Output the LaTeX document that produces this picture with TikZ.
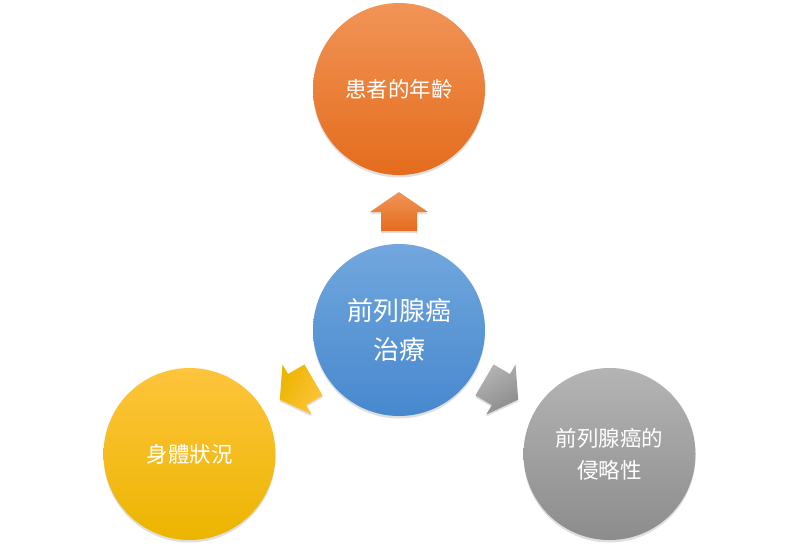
\documentclass[tikz,border=0pt]{standalone}
\usepackage{fontspec}
\newfontfamily\cjk{Noto Sans CJK TC}
\usetikzlibrary{shadows}
\definecolor{orT}{HTML}{F19457}
\definecolor{orB}{HTML}{E46C1C}
\definecolor{blT}{HTML}{71A7DD}
\definecolor{blB}{HTML}{4788CE}
\definecolor{yeT}{HTML}{FEC43C}
\definecolor{yeB}{HTML}{ECB500}
\definecolor{grT}{HTML}{B4B4B4}
\definecolor{grB}{HTML}{8C8C8C}
\tikzset{
  bubble/.style={circle, minimum size=172pt, inner sep=0pt, text=white, align=center,
    font=\cjk\fontsize{21.5}{32}\selectfont,
    drop shadow={opacity=0.25, shadow xshift=0pt, shadow yshift=-2.5pt}},
  bigtext/.style={font=\cjk\fontsize{26}{39}\selectfont},
}
\newcommand{\blockarrow}{(99,-18) -- (118,-18) -- (118,-29) -- (138,0) -- (118,29) -- (118,18) -- (99,18) -- cycle}
\begin{document}
\begin{tikzpicture}[x=1pt, y=1pt]
\useasboundingbox (0,0) rectangle (799,-547);
\node[bubble, top color=orT, bottom color=orB] (age) at (399,-89) {患者的年齡};
\node[bubble, bigtext, top color=blT, bottom color=blB] (ctr) at (399,-330) {前列腺癌\\治療};
\node[bubble, top color=yeT, bottom color=yeB] (body) at (189.5,-454) {身體狀況};
\node[bubble, top color=grT, bottom color=grB] (agg) at (609.5,-454) {前列腺癌的\\侵略性};
\begin{scope}[shift={(ctr.center)}, rotate=90]
  \shade[top color=orT, bottom color=orB, drop shadow={opacity=0.25, shadow xshift=0pt, shadow yshift=-2pt}] \blockarrow;
\end{scope}
\begin{scope}[shift={(ctr.center)}, rotate=210.3]
  \shade[top color=yeT, bottom color=yeB, shading angle=-120.3, drop shadow={opacity=0.25, shadow xshift=0pt, shadow yshift=-2pt}] \blockarrow;
\end{scope}
\begin{scope}[shift={(ctr.center)}, rotate=-30.3]
  \shade[top color=grT, bottom color=grB, shading angle=30.3, drop shadow={opacity=0.25, shadow xshift=0pt, shadow yshift=-2pt}] \blockarrow;
\end{scope}
\end{tikzpicture}
\end{document}
